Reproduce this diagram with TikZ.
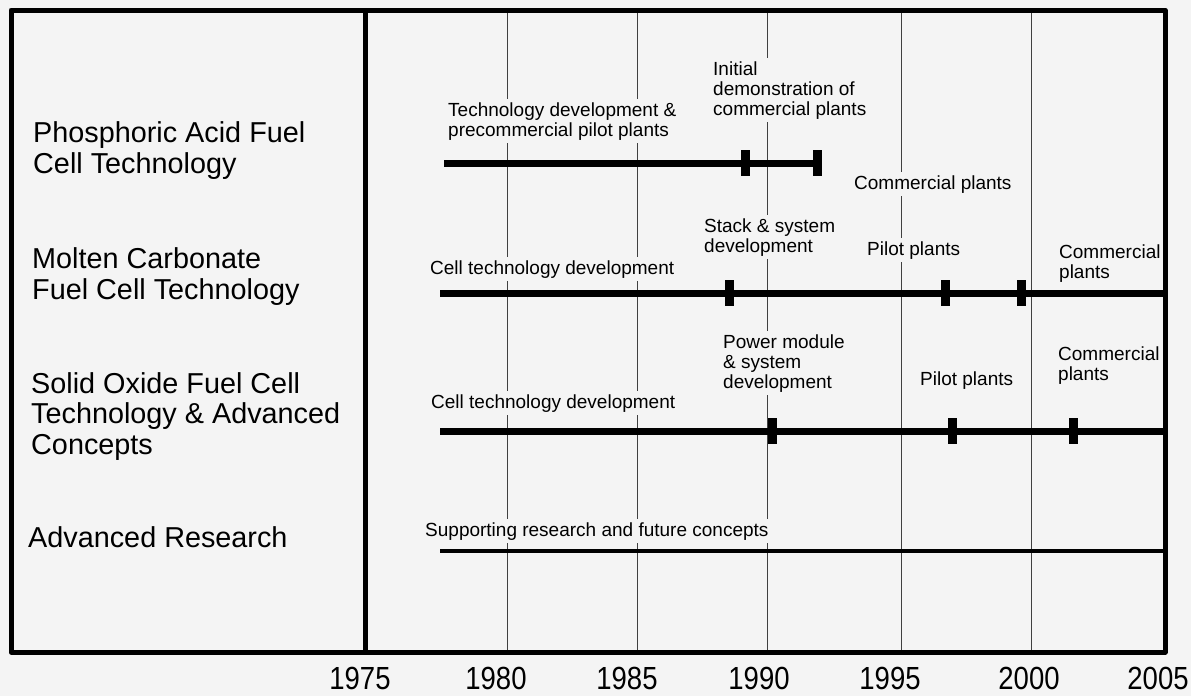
\documentclass[tikz,border=0pt]{standalone}
\usepackage{fontspec}
\setmainfont{Liberation Sans}
\newfontfamily\yearfont[FakeStretch=0.86]{Liberation Sans}
\definecolor{bg}{RGB}{244,244,244}
\tikzset{
  rowlabel/.style={anchor=base west, align=left, inner sep=0pt, font=\fontsize{28.8}{30.5}\selectfont},
  phase/.style={anchor=base west, align=left, fill=bg, inner sep=3pt, font=\fontsize{19}{20}\selectfont},
  yearlabel/.style={anchor=base, inner sep=0pt, font=\yearfont\fontsize{32}{32}\selectfont},
  gridline/.style={line width=1pt, black!75},
  bar/.style={line width=7pt},
  thinbar/.style={line width=4pt},
  milestone/.style={fill=black, draw=none, minimum width=9pt, minimum height=26pt, inner sep=0pt},
  borderline/.style={line width=5pt, line join=round}
}
\begin{document}
\begin{tikzpicture}[x=1pt,y=-1pt]
\fill[bg] (0,0) rectangle (1191,696);
\useasboundingbox (0,0) rectangle (1191,696);

% grid lines
\foreach \x in {507,637,767,901,1031}{
  \draw[gridline] (\x,10) -- (\x,652);
}

% row labels (anchor = baseline of last line)
\node[rowlabel] (pafc) at (33,173) {Phosphoric Acid Fuel\\Cell Technology};
\node[rowlabel] (mcfc) at (32,299) {Molten Carbonate\\Fuel Cell Technology};
\node[rowlabel] (sofc) at (31,454) {Solid Oxide Fuel Cell\\Technology \& Advanced\\Concepts};
\node[rowlabel] (ar) at (28,547) {Advanced Research};

% phase labels (anchor = baseline of last line)
\node[phase] (p1) at (445,136) {Technology development \&\\precommercial pilot plants};
\node[phase] (p2) at (710,115) {Initial\\demonstration of\\commercial plants};
\node[phase] (p3) at (851,189) {Commercial plants};
\node[phase] (m1) at (427,274) {Cell technology development};
\node[phase] (m2) at (701,252) {Stack \& system\\development};
\node[phase] (m3) at (864,255) {Pilot plants};
\node[phase] (m4) at (1056,278) {Commercial\\plants};
\node[phase] (s1) at (428,408) {Cell technology development};
\node[phase] (s2) at (720,388) {Power module\\\& system\\development};
\node[phase] (s3) at (917,385) {Pilot plants};
\node[phase] (s4) at (1055,380) {Commercial\\plants};
\node[phase] (r1) at (422,536) {Supporting research and future concepts};

% PAFC bar
\coordinate (pa0) at (444,163);
\node[milestone] (pa1) at (745,163) {};
\node[milestone] (pa2) at (817,163) {};
\draw[bar] (pa0) -- (pa2.center);

% MCFC bar
\coordinate (mc0) at (440,293);
\coordinate (mc4) at (1165,293);
\draw[bar] (mc0) -- (mc4);
\node[milestone] (mc1) at (729,293) {};
\node[milestone] (mc2) at (945,293) {};
\node[milestone] (mc3) at (1021,293) {};

% SOFC bar
\coordinate (so0) at (440,431);
\coordinate (so4) at (1165,431);
\draw[bar] (so0) -- (so4);
\node[milestone] (so1) at (772,431) {};
\node[milestone] (so2) at (952,431) {};
\node[milestone] (so3) at (1073,431) {};

% Advanced research bar
\coordinate (ar0) at (440,551);
\coordinate (ar1) at (1165,551);
\draw[thinbar] (ar0) -- (ar1);

% frame
\draw[borderline] (11,10) rectangle (1165,652);
\draw[borderline] (365,10) -- (365,652);

% years
\node[yearlabel] (y1975) at (360,689) {1975};
\node[yearlabel] (y1980) at (496,689) {1980};
\node[yearlabel] (y1985) at (627,689) {1985};
\node[yearlabel] (y1990) at (759,689) {1990};
\node[yearlabel] (y1995) at (890,689) {1995};
\node[yearlabel] (y2000) at (1029,689) {2000};
\node[yearlabel] (y2005) at (1158,689) {2005};
\end{tikzpicture}
\end{document}
